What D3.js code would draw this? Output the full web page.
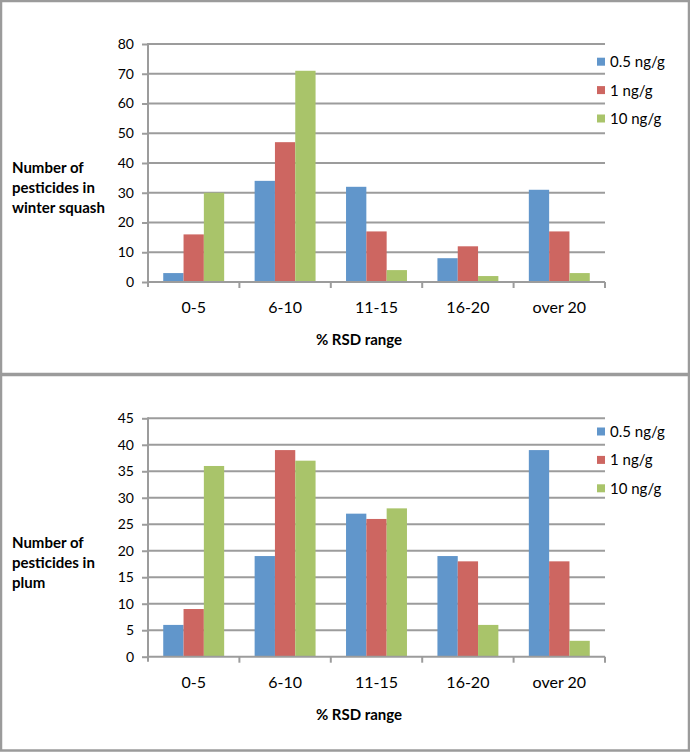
<!DOCTYPE html>
<html>
<head>
<meta charset="utf-8">
<script src="https://cdn.jsdelivr.net/npm/d3@7"></script>
<style>
  body { margin: 0; background: #fff; }
  svg text { font-family: Lato, "Open Sans", sans-serif; fill: #000; }
</style>
</head>
<body>
<div id="container"></div>
<script>

// categories and series
var categories = ["0-5", "6-10", "11-15", "16-20", "over 20"];
var seriesNames = ["0.5 ng/g", "1 ng/g", "10 ng/g"];
var seriesColors = ["#6196cb", "#cd6661", "#a9c46a"];

// winter squash values, one array per series
var squash05 = [3, 34, 32, 8, 31];
var squash1 = [16, 47, 17, 12, 17];
var squash10 = [30, 71, 4, 2, 3];
var squashTicks = [0, 10, 20, 30, 40, 50, 60, 70, 80];

// plum values
var plum05 = [6, 19, 27, 19, 39];
var plum1 = [9, 39, 26, 18, 18];
var plum10 = [36, 37, 28, 6, 3];
var plumTicks = [0, 5, 10, 15, 20, 25, 30, 35, 40, 45];

var width = 690, height = 752;

var svg = d3.select("div#container")
  .append("svg")
  .attr("width", width)
  .attr("height", height);

// panel frames
svg.append("rect").attr("x", 1).attr("y", 1).attr("width", 688).attr("height", 373)
  .attr("fill", "none").attr("stroke", "#9b9b9b").attr("stroke-width", 2.5);
svg.append("rect").attr("x", 1).attr("y", 375).attr("width", 688).attr("height", 375.5)
  .attr("fill", "none").attr("stroke", "#9b9b9b").attr("stroke-width", 2.5);

function drawChart(p) {
  var g = svg.append("g");

  var x = d3.scaleBand().domain(categories).range([148, 605]).paddingInner(0).paddingOuter(0);
  // excel style: gap of 150% of a bar between groups
  var inner = d3.scaleBand().domain(seriesNames).range([0, x.bandwidth()])
    .paddingInner(0).paddingOuter(0.75);
  var y = d3.scaleLinear().domain([0, p.max]).range([p.bottom, p.top]);

  // gridlines
  g.selectAll("line.grid").data(p.ticks.slice(1)).enter().append("line")
    .attr("x1", 148).attr("x2", 605)
    .attr("y1", function(d) { return y(d); }).attr("y2", function(d) { return y(d); })
    .attr("stroke", "#9c9c9c").attr("stroke-width", 2);

  // bars
  var series = p.values.map(function(vals, i) {
    return vals.map(function(v, j) { return {cat: categories[j], s: seriesNames[i], v: v, c: seriesColors[i]}; });
  });
  g.selectAll("g.series").data(series).enter().append("g")
    .selectAll("rect").data(function(d) { return d; }).enter().append("rect")
    .attr("x", function(d) { return x(d.cat) + inner(d.s); })
    .attr("width", inner.bandwidth())
    .attr("y", function(d) { return y(d.v); })
    .attr("height", function(d) { return p.bottom - y(d.v); })
    .attr("fill", function(d) { return d.c; });

  // y axis
  var yAxis = d3.axisLeft(y).tickValues(p.ticks).tickSize(6).tickPadding(8).tickFormat(d3.format("d"));
  var ya = g.append("g").attr("transform", "translate(148,0)").call(yAxis);
  ya.select(".domain").remove();
  ya.selectAll(".tick line").attr("stroke", "#9c9c9c").attr("stroke-width", 2);
  ya.selectAll(".tick text").style("font-size", "14px").attr("fill", "#000");
  g.append("line").attr("x1", 148).attr("x2", 148).attr("y1", p.top - 1).attr("y2", p.bottom + 5)
    .attr("stroke", "#9c9c9c").attr("stroke-width", 2);

  // x axis
  var xa = g.append("g").attr("transform", "translate(0," + p.bottom + ")")
    .call(d3.axisBottom(x).tickSize(0).tickPadding(20));
  xa.select(".domain").remove();
  xa.selectAll(".tick text").style("font-size", "16px").attr("fill", "#000");
  g.append("line").attr("x1", 147).attr("x2", 605).attr("y1", p.bottom).attr("y2", p.bottom)
    .attr("stroke", "#9c9c9c").attr("stroke-width", 2);
  g.selectAll("line.ctick").data(categories).enter().append("line")
    .attr("x1", function(d) { return x(d) + x.bandwidth(); })
    .attr("x2", function(d) { return x(d) + x.bandwidth(); })
    .attr("y1", p.bottom).attr("y2", p.bottom + 6)
    .attr("stroke", "#9c9c9c").attr("stroke-width", 2);

  // axis titles
  g.append("text").attr("x", 359).attr("y", p.bottom + 63).attr("text-anchor", "middle")
    .style("font-size", "15px").style("font-weight", "bold").text("% RSD range");
  var yt = g.append("text").style("font-size", "15px").style("font-weight", "bold");
  p.yTitle.forEach(function(line, i) {
    yt.append("tspan").attr("x", 12).attr("y", p.titleY + i * 20).text(line);
  });

  // legend
  var lg = g.selectAll("g.legend").data(seriesNames).enter().append("g")
    .attr("transform", function(d, i) { return "translate(597," + (p.legendY + i * 28.4) + ")"; });
  lg.append("rect").attr("x", 0).attr("y", -4).attr("width", 8).attr("height", 8)
    .attr("fill", function(d, i) { return seriesColors[i]; });
  lg.append("text").attr("x", 13).attr("y", 5.5).style("font-size", "15px").text(function(d) { return d; });
}

drawChart({
  values: [squash05, squash1, squash10],
  ticks: squashTicks, max: 80,
  top: 44, bottom: 282,
  yTitle: ["Number of", "pesticides in", "winter squash"],
  titleY: 173,
  legendY: 61.7
});

drawChart({
  values: [plum05, plum1, plum10],
  ticks: plumTicks, max: 45,
  top: 418.3, bottom: 656.7,
  yTitle: ["Number of", "pesticides in", "plum"],
  titleY: 548,
  legendY: 431.5
});

</script>
</body>
</html>
